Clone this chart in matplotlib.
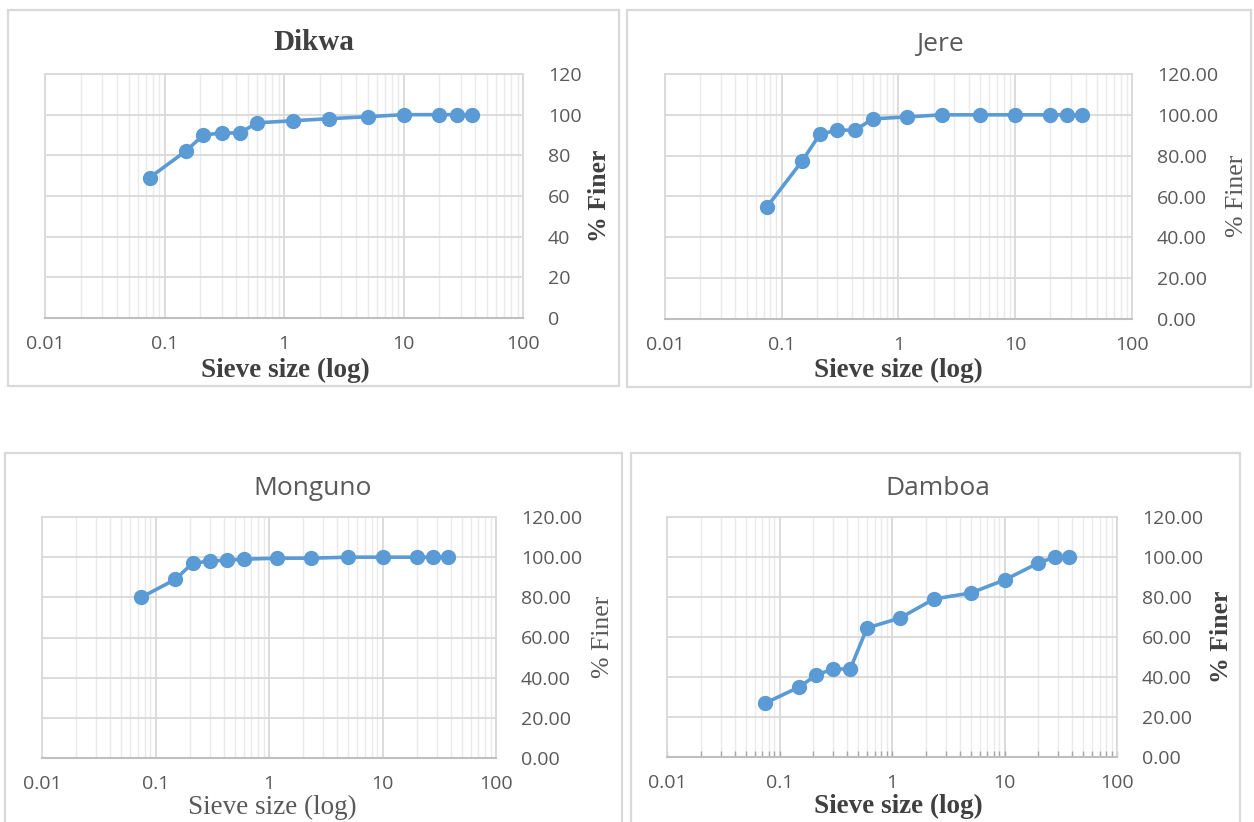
import matplotlib
matplotlib.use("Agg")
import matplotlib.pyplot as plt
from matplotlib.patches import Rectangle
from matplotlib.ticker import LogLocator, NullFormatter, FixedLocator, FixedFormatter

# Sieve openings (mm) and cumulative percent passing for each site
sieve_mm = [0.075, 0.15, 0.212, 0.3, 0.425, 0.6, 1.18, 2.36, 5, 10, 20, 28, 37.5]
dikwa = [69, 82, 90, 91, 91, 96, 97, 98, 99, 100, 100, 100, 100]
jere = [55, 77.5, 90.5, 92.5, 92.5, 98, 99, 100, 100, 100, 100, 100, 100]
monguno = [80, 89, 97, 98, 98.5, 99, 99.5, 99.5, 100, 100, 100, 100, 100]
damboa = [27, 35, 41, 44, 44, 64.5, 69.5, 79, 82, 88.5, 97, 100, 100]

x_ticks = [0.01, 0.1, 1, 10, 100]
x_tick_labels = ["0.01", "0.1", "1", "10", "100"]
y_ticks = [0, 20, 40, 60, 80, 100, 120]

W, H = 1254, 822
fig = plt.figure(figsize=(W / 100, H / 100), dpi=100)

BLUE = "#5B9BD5"
TXT = "#595959"
SANS = ["Open Sans", "DejaVu Sans"]
SERIF = ["Liberation Serif", "DejaVu Serif"]


def fx(x):
    return x / W


def fy(y):
    return 1 - y / H


def frame(l, t, r, b):
    fig.patches.append(Rectangle((fx(l), fy(b)), (r - l) / W, (b - t) / H,
                                 transform=fig.transFigure, fill=False,
                                 ec="#D9D9D9", lw=1.6, zorder=0))


panels = [
    dict(name="Dikwa", y=dikwa, plot=(45, 74, 523, 318), box=(8, 10, 619, 386),
         title_xy=(314, 42), title_style=("serif", "bold", 21),
         xlab_xy=(285, 370), xlab_bold=True, ylab_xy=(600, 196), ylab_bold=True,
         yfmt="{:.0f}", minor_ticks=False),
    dict(name="Jere", y=jere, plot=(665, 74, 1132, 319), box=(627, 10, 1251, 387),
         title_xy=(940, 44), title_style=("sans", "normal", 19),
         xlab_xy=(898, 370), xlab_bold=True, ylab_xy=(1237, 196), ylab_bold=False,
         yfmt="{:.2f}", minor_ticks=False),
    dict(name="Monguno", y=monguno, plot=(42, 517, 496, 758), box=(5, 453, 622, 840),
         title_xy=(313, 488), title_style=("sans", "normal", 19),
         xlab_xy=(272, 807), xlab_bold=False, ylab_xy=(603, 637), ylab_bold=False,
         yfmt="{:.2f}", minor_ticks=False),
    dict(name="Damboa", y=damboa, plot=(667, 517, 1117, 757), box=(631, 453, 1240, 840),
         title_xy=(938, 488), title_style=("sans", "normal", 19),
         xlab_xy=(898, 806), xlab_bold=True, ylab_xy=(1222, 637), ylab_bold=True,
         yfmt="{:.2f}", minor_ticks=True),
]

for p in panels:
    frame(*p["box"])
    l, t, r, b = p["plot"]
    ax = fig.add_axes([fx(l), fy(b), (r - l) / W, (b - t) / H])
    ax.set_xscale("log")
    ax.set_xlim(0.01, 100)
    ax.set_ylim(0, 120)

    ax.xaxis.set_major_locator(FixedLocator(x_ticks))
    ax.xaxis.set_major_formatter(FixedFormatter(x_tick_labels))
    ax.xaxis.set_minor_locator(LogLocator(base=10, subs=range(2, 10), numticks=20))
    ax.xaxis.set_minor_formatter(NullFormatter())
    ax.yaxis.set_major_locator(FixedLocator(y_ticks))
    ax.yaxis.set_major_formatter(FixedFormatter([p["yfmt"].format(v) for v in y_ticks]))
    ax.yaxis.tick_right()

    ax.grid(which="major", axis="both", color="#D9D9D9", lw=1.3)
    ax.grid(which="minor", axis="x", color="#EAEAEA", lw=1.0)
    ax.set_axisbelow(True)

    for side in ("top", "left", "right"):
        ax.spines[side].set_color("#D9D9D9")
        ax.spines[side].set_linewidth(1.3)
    ax.spines["bottom"].set_color("#BFBFBF")
    ax.spines["bottom"].set_linewidth(1.5)

    ax.tick_params(axis="x", which="major", length=0, pad=12, labelsize=14,
                   labelcolor=TXT)
    ax.tick_params(axis="y", which="major", length=0, pad=18, labelsize=14,
                   labelcolor=TXT)
    if p["minor_ticks"]:
        ax.tick_params(axis="x", which="both", direction="in", length=4,
                       color="#A6A6A6", width=1)
    else:
        ax.tick_params(axis="x", which="minor", length=0)
    for lab in ax.get_xticklabels() + ax.get_yticklabels():
        lab.set_fontfamily(SANS)

    ax.plot(sieve_mm, p["y"], color=BLUE, lw=2.6, marker="o", ms=10,
            mfc=BLUE, mec=BLUE, zorder=3, clip_on=False)

    fam, weight, size = p["title_style"]
    tx, ty = p["title_xy"]
    fig.text(fx(tx), fy(ty), p["name"], ha="center", va="center",
             family=SERIF if fam == "serif" else SANS, weight=weight,
             size=size, color="#404040" if fam == "serif" else TXT)

    xx, xy = p["xlab_xy"]
    fig.text(fx(xx), fy(xy), "Sieve size (log)", ha="center", va="center",
             family=SERIF, weight="bold" if p["xlab_bold"] else "normal",
             size=19.5, color="#404040" if p["xlab_bold"] else TXT)
    yx, yy = p["ylab_xy"]
    fig.text(fx(yx), fy(yy), "% Finer", ha="center", va="center", rotation=90,
             family=SERIF, weight="bold" if p["ylab_bold"] else "normal",
             size=18.5, color="#404040" if p["ylab_bold"] else TXT)

fig.savefig("out.png", dpi=100, facecolor="white")
